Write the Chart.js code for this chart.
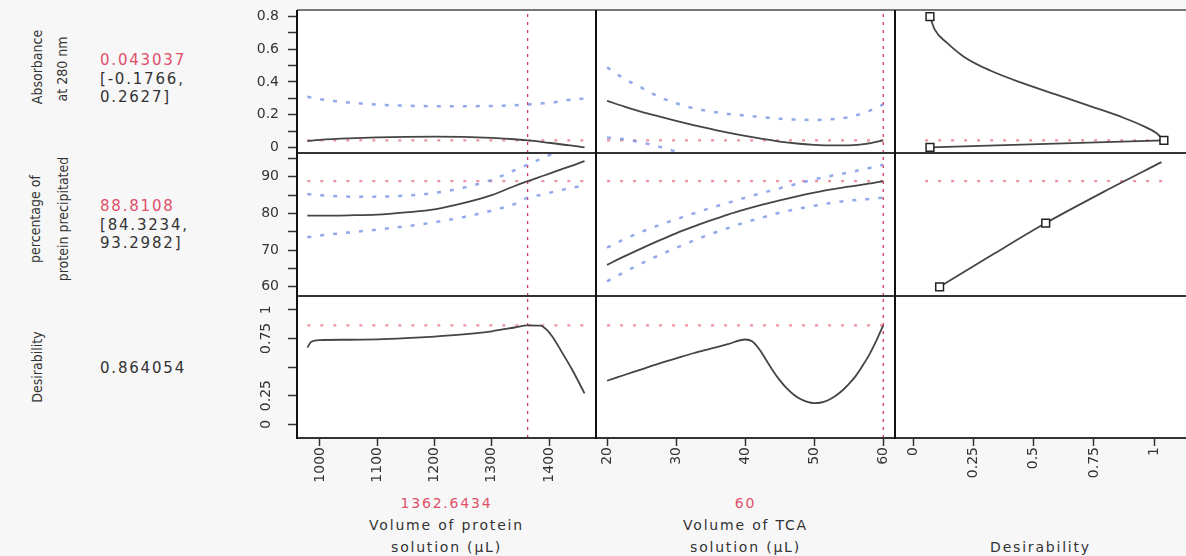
<!DOCTYPE html>
<html>
<head>
<meta charset="utf-8">
<script src="https://cdn.jsdelivr.net/npm/chart.js@4.4.0/dist/chart.umd.min.js"></script>
<style>
  body { margin:0; width:1186px; height:556px; overflow:hidden; position:relative; background:#f7f7f7;
         font-family:"DejaVu Sans", Verdana, sans-serif; color:#333; }
  canvas { position:absolute; }
  .line { position:absolute; }
  .vt { position:absolute; transform:translate(-50%,-50%) rotate(-90deg); white-space:nowrap;
        font:14px "Liberation Sans Narrow", "DejaVu Sans Condensed", sans-serif; color:#333; }
  .val { position:absolute; font-size:15px; letter-spacing:1.8px; line-height:18.5px; white-space:nowrap; }
  .xt { position:absolute; transform:translateX(-50%); text-align:center; font-size:14px; letter-spacing:1.8px;
        line-height:22px; white-space:nowrap; }
  .red { color:#e0506a; }
</style>
</head>
<body>
<script>
// ---- current settings of the profiler ----
const CUR_PROTEIN = 1362.6434;
const CUR_TCA = 60;
const CUR_ABS = 0.043037;
const CUR_ABS_CI = [-0.1766, 0.2627];
const CUR_PCT = 88.8108;
const CUR_PCT_CI = [84.3234, 93.2982];
const CUR_DES = 0.864054;

// ---- axis ranges and ticks ----
const protRange = [960, 1482];
const tcaRange = [18.4, 61.7];
const desXRange = [-0.075, 1.14];
const absRange = [-0.034, 0.84];
const pctRange = [57.5, 96.5];
const desYRange = [-0.12, 1.12];

const protTicks = [1000, 1100, 1200, 1300, 1400];
const protLabels = ['1000', '1100', '1200', '1300', '1400'];
const tcaTicks = [20, 30, 40, 50, 60];
const tcaLabels = ['20', '30', '40', '50', '60'];
const desXTicks = [0, 0.25, 0.5, 0.75, 1];
const desXLabels = ['0', '0.25', '0.5', '0.75', '1'];
const absTicks = [0, 0.1, 0.2, 0.3, 0.4, 0.5, 0.6, 0.7, 0.8];
const absLabels = ['0', '', '0.2', '', '0.4', '', '0.6', '', '0.8'];
const pctTicks = [60, 65, 70, 75, 80, 85, 90, 95];
const pctLabels = ['60', '', '70', '', '80', '', '90', ''];
const desYTicks = [0, 0.25, 0.5, 0.75, 1];
const desYLabels = ['0', '0.25', '', '0.75', '1'];

// ---- profiles over protein volume ----
const protGrid    = [978, 1000, 1050, 1100, 1150, 1200, 1250, 1300, 1340, 1362.6434, 1390, 1410, 1430, 1450, 1462];
const absByProt   = [0.040, 0.046, 0.055, 0.061, 0.065, 0.066, 0.064, 0.058, 0.050, 0.043, 0.033, 0.024, 0.015, 0.006, 0.0];
const absByProtHi = [0.31, 0.295, 0.275, 0.262, 0.255, 0.252, 0.252, 0.254, 0.258, 0.2627, 0.27, 0.276, 0.288, 0.295, 0.30];
const absByProtLo = [-0.23, -0.20, -0.165, -0.14, -0.125, -0.12, -0.124, -0.138, -0.158, -0.1766, -0.204, -0.228, -0.258, -0.283, -0.30];
const pctByProt   = [79.4, 79.4, 79.5, 79.7, 80.3, 81.1, 82.8, 85.0, 87.5, 88.8108, 90.3, 91.4, 92.5, 93.6, 94.3];
const pctByProtHi = [85.3, 85.0, 84.6, 84.6, 84.9, 85.6, 87.0, 89.2, 91.8, 93.2982, 95.2, 96.6, 98.0, 99.4, 100.2];
const pctByProtLo = [73.5, 74.0, 74.8, 75.6, 76.5, 77.6, 79.0, 80.8, 82.6, 84.3234, 85.2, 86.0, 86.7, 87.3, 87.6];
const desProtGrid = [978, 985, 1000, 1050, 1100, 1150, 1200, 1250, 1300, 1340, 1362.6434, 1385, 1395, 1405, 1420, 1440, 1462];
const desByProt   = [0.67, 0.72, 0.735, 0.738, 0.742, 0.752, 0.766, 0.785, 0.812, 0.845, 0.864054, 0.862, 0.83, 0.77, 0.65, 0.48, 0.27];

// ---- profiles over TCA volume ----
const tcaGrid    = [20, 22.5, 25, 27.5, 30, 32.5, 35, 37.5, 40, 42.5, 45, 47.5, 50, 52.5, 55, 57.5, 60];
const absByTca   = [0.285, 0.25, 0.218, 0.19, 0.163, 0.137, 0.113, 0.09, 0.07, 0.052, 0.036, 0.024, 0.016, 0.012, 0.013, 0.022, 0.043];
const absByTcaHi = [0.49, 0.42, 0.365, 0.31, 0.27, 0.24, 0.22, 0.205, 0.195, 0.185, 0.175, 0.17, 0.168, 0.172, 0.185, 0.215, 0.2627];
const absByTcaLo = [0.06, 0.05, 0.03, 0.005, -0.025, -0.055, -0.08, -0.1, -0.115, -0.125, -0.13, -0.135, -0.14, -0.145, -0.155, -0.165, -0.1766];
const pctByTca   = [66.0, 68.3, 70.5, 72.6, 74.6, 76.4, 78.1, 79.7, 81.1, 82.4, 83.6, 84.7, 85.7, 86.6, 87.3, 88.0, 88.8108];
const pctByTcaHi = [70.7, 73.0, 75.0, 76.8, 78.4, 80.0, 81.5, 82.9, 84.3, 85.6, 86.9, 88.1, 89.3, 90.3, 91.2, 92.2, 93.2982];
const pctByTcaLo = [61.5, 64.0, 66.4, 68.6, 70.6, 72.6, 74.4, 76.0, 77.6, 78.9, 80.2, 81.2, 82.1, 82.9, 83.5, 83.9, 84.3234];
const desTcaGrid = [20, 22.5, 25, 27.5, 30, 32.5, 35, 37.5, 40, 41, 42, 43, 44, 45, 46, 47, 48, 49, 50, 51, 52, 53, 54, 55, 56, 57, 58, 59, 60];
const desByTca   = [0.38, 0.43, 0.48, 0.53, 0.575, 0.62, 0.66, 0.70, 0.74, 0.725, 0.66, 0.565, 0.47, 0.385, 0.315, 0.26, 0.22,
                    0.195, 0.185, 0.19, 0.21, 0.245, 0.29, 0.35, 0.42, 0.51, 0.61, 0.73, 0.864054];

// ---- desirability functions (x = desirability) ----
const absDesX  = [0.07, 0.09, 0.14, 0.21, 0.32, 0.46, 0.60, 0.74, 0.875, 0.96, 1.01, 1.04];
const absDesY  = [0.8, 0.72, 0.64, 0.555, 0.47, 0.39, 0.32, 0.25, 0.18, 0.127, 0.087, 0.043];
const absTailX = [1.04, 0.07];
const absTailY = [0.043, 0.0];
const absMarkX = [0.07, 1.04, 0.07];
const absMarkY = [0.8, 0.043, 0.0];
const pctDesX  = [0.11, 0.33, 0.55, 0.79, 1.03];
const pctDesY  = [60, 68.8, 77.4, 85.9, 94.0];
const pctMarkX = [0.11, 0.55];
const pctMarkY = [60, 77.4];
const desHSpan = [0.05, 1.07];

// ---- layout ----
const COLS = [{ left: 297, width: 299 }, { left: 596, width: 299 }, { left: 895, width: 293 }];
const ROWS = [{ top: 10, height: 143 }, { top: 153, height: 143 }, { top: 296, height: 142 }];
const AXIS_W = 50, AXIS_H = 52;

Chart.defaults.font.family = '"DejaVu Sans", Verdana, sans-serif';
Chart.defaults.font.size = 14;
Chart.defaults.color = '#333';
Chart.defaults.animation = false;
Chart.defaults.events = [];
Chart.defaults.plugins.legend.display = false;
Chart.defaults.plugins.tooltip.enabled = false;

const pts = (xs, ys) => xs.map((x, i) => ({ x, y: ys[i] }));

const fit = (xs, ys) => ({ data: pts(xs, ys), borderColor: '#454545', borderWidth: 1.8, pointRadius: 0,
  cubicInterpolationMode: 'monotone' });
const ci = (xs, ys) => ({ data: pts(xs, ys), borderColor: 'rgba(110,140,230,0.75)', borderWidth: 2.5,
  borderDash: [4, 9], pointRadius: 0, cubicInterpolationMode: 'monotone' });
const hline = (y, span) => ({ data: [{ x: span[0], y }, { x: span[1], y }], borderColor: 'rgba(232,120,135,0.8)',
  borderWidth: 2.2, borderDash: [3, 10], pointRadius: 0 });
const vline = (x, range) => ({ data: [{ x, y: range[0] }, { x, y: range[1] }], borderColor: '#d23c55',
  borderWidth: 1.3, borderDash: [3, 5], pointRadius: 0 });
const straight = (xs, ys) => ({ data: pts(xs, ys), borderColor: '#454545', borderWidth: 1.8, pointRadius: 0 });
const marks = (xs, ys) => ({ data: pts(xs, ys), showLine: false, pointStyle: 'rect', pointRadius: 5.5,
  pointBorderColor: '#222', pointBackgroundColor: '#fff', pointBorderWidth: 1.5 });

// white plotting area
const panelBg = {
  id: 'panelBg',
  beforeDraw(chart) {
    const { ctx, chartArea: a } = chart;
    ctx.save();
    ctx.fillStyle = '#fff';
    ctx.fillRect(a.left, a.top, a.width, a.height);
    ctx.restore();
  }
};

// vertical tick labels on a y axis
const rotLabels = {
  id: 'rotLabels',
  afterDraw(chart, args, o) {
    if (!o.labels) return;
    const { ctx, chartArea: a, scales: { y } } = chart;
    ctx.save();
    ctx.font = '14px "DejaVu Sans", Verdana, sans-serif';
    ctx.fillStyle = '#333';
    ctx.textAlign = 'center';
    ctx.textBaseline = 'middle';
    o.values.forEach((v, i) => {
      if (!o.labels[i]) return;
      ctx.save();
      ctx.translate(a.left - 31, y.getPixelForValue(v));
      ctx.rotate(-Math.PI / 2);
      ctx.fillText(o.labels[i], 0, 0);
      ctx.restore();
    });
    ctx.restore();
  }
};

function axis(a, show, dir) {
  return {
    type: 'linear', display: show, min: a.range[0], max: a.range[1],
    afterBuildTicks: s => { s.ticks = a.ticks.map(v => ({ value: v })); },
    afterFit: s => {
      // keep the plot area flush with the canvas edges
      s.paddingTop = s.paddingBottom = s.paddingLeft = s.paddingRight = 0;
      if (!show) return;
      if (dir === 'x') s.height = AXIS_H; else s.width = AXIS_W;
    },
    grid: { drawOnChartArea: false, drawTicks: true, tickLength: dir === 'x' ? 8 : 9, tickColor: '#333', tickWidth: 1.5 },
    border: { display: false },
    ticks: {
      autoSkip: false,
      padding: dir === 'x' ? 1 : 9,
      minRotation: dir === 'x' ? 90 : 0,
      maxRotation: dir === 'x' ? 90 : 0,
      callback: (v, i) => a.rotated ? '' : a.labels[i]
    }
  };
}

function panel(col, row, xa, ya, datasets) {
  const c = COLS[col], r = ROWS[row];
  const showY = col === 0, showX = row === 2;
  const w = c.width + (showY ? AXIS_W : 0);
  const h = r.height + (showX ? AXIS_H : 0);
  const cv = document.createElement('canvas');
  cv.width = w; cv.height = h;
  cv.style.left = (c.left - (showY ? AXIS_W : 0)) + 'px';
  cv.style.top = r.top + 'px';
  cv.style.width = w + 'px'; cv.style.height = h + 'px';
  document.body.appendChild(cv);
  return new Chart(cv, {
    type: 'line',
    data: { datasets },
    options: {
      responsive: false,
      layout: { padding: 0, autoPadding: false },
      scales: { x: axis(xa, showX, 'x'), y: axis(ya, showY, 'y') },
      plugins: { rotLabels: ya.rotated && showY ? { values: ya.ticks, labels: ya.labels } : {} }
    },
    plugins: [panelBg, rotLabels]
  });
}

const xProt = { range: protRange, ticks: protTicks, labels: protLabels };
const xTca = { range: tcaRange, ticks: tcaTicks, labels: tcaLabels };
const xDes = { range: desXRange, ticks: desXTicks, labels: desXLabels };
const yAbs = { range: absRange, ticks: absTicks, labels: absLabels };
const yPct = { range: pctRange, ticks: pctTicks, labels: pctLabels };
const yDes = { range: desYRange, ticks: desYTicks, labels: desYLabels, rotated: true };
const protSpan = [protGrid[0], protGrid[protGrid.length - 1]];
const tcaSpan = [tcaGrid[0], tcaGrid[tcaGrid.length - 1]];

// row 1: absorbance at 280 nm
panel(0, 0, xProt, yAbs, [fit(protGrid, absByProt), ci(protGrid, absByProtHi), ci(protGrid, absByProtLo),
  hline(CUR_ABS, protSpan), vline(CUR_PROTEIN, absRange)]);
panel(1, 0, xTca, yAbs, [fit(tcaGrid, absByTca), ci(tcaGrid, absByTcaHi), ci(tcaGrid, absByTcaLo),
  hline(CUR_ABS, tcaSpan), vline(CUR_TCA, absRange)]);
panel(2, 0, xDes, yAbs, [marks(absMarkX, absMarkY), fit(absDesX, absDesY), straight(absTailX, absTailY),
  hline(CUR_ABS, desHSpan)]);

// row 2: percentage of protein precipitated
panel(0, 1, xProt, yPct, [fit(protGrid, pctByProt), ci(protGrid, pctByProtHi), ci(protGrid, pctByProtLo),
  hline(CUR_PCT, protSpan), vline(CUR_PROTEIN, pctRange)]);
panel(1, 1, xTca, yPct, [fit(tcaGrid, pctByTca), ci(tcaGrid, pctByTcaHi), ci(tcaGrid, pctByTcaLo),
  hline(CUR_PCT, tcaSpan), vline(CUR_TCA, pctRange)]);
panel(2, 1, xDes, yPct, [marks(pctMarkX, pctMarkY), fit(pctDesX, pctDesY), hline(CUR_PCT, desHSpan)]);

// row 3: overall desirability
panel(0, 2, xProt, yDes, [fit(desProtGrid, desByProt), hline(CUR_DES, protSpan), vline(CUR_PROTEIN, desYRange)]);
panel(1, 2, xTca, yDes, [fit(desTcaGrid, desByTca), hline(CUR_DES, tcaSpan), vline(CUR_TCA, desYRange)]);
panel(2, 2, xDes, yDes, []);

// panel frame
const frameTop = ROWS[0].top, frameBottom = ROWS[2].top + ROWS[2].height;
const frameLeft = COLS[0].left;
function rule(left, top, width, height, color) {
  const d = document.createElement('div');
  d.className = 'line';
  Object.assign(d.style, { left: left + 'px', top: top + 'px', width: width + 'px', height: height + 'px', background: color });
  document.body.appendChild(d);
}
rule(frameLeft, frameTop - 1, 1186 - frameLeft, 2, '#777');
[ROWS[1].top, ROWS[2].top, frameBottom].forEach(y => rule(frameLeft, y - 1, 1186 - frameLeft, 2, '#333'));
COLS.forEach(c => rule(c.left - 1, frameTop, 2, frameBottom - frameTop + 1, '#111'));

// response names, current predictions and factor titles
function text(cls, left, top, html) {
  const d = document.createElement('div');
  d.className = cls;
  d.style.left = left + 'px';
  d.style.top = top + 'px';
  d.innerHTML = html;
  document.body.appendChild(d);
}
text('vt', 37, 67, 'Absorbance');
text('vt', 62, 69, 'at 280 nm');
text('vt', 35, 219, 'percentage of');
text('vt', 63, 219, 'protein precipitated');
text('vt', 37, 367, 'Desirability');

text('val', 100, 51, `<span class="red">${CUR_ABS}</span><br>[${CUR_ABS_CI[0]},<br>${CUR_ABS_CI[1]}]`);
text('val', 100, 197, `<span class="red">${CUR_PCT}</span><br>[${CUR_PCT_CI[0]},<br>${CUR_PCT_CI[1]}]`);
text('val', 100, 359, `${CUR_DES}`);

text('xt', COLS[0].left + COLS[0].width / 2, 492, `<span class="red">${CUR_PROTEIN}</span><br>Volume of protein<br>solution (µL)`);
text('xt', COLS[1].left + COLS[1].width / 2, 492, `<span class="red">${CUR_TCA}</span><br>Volume of TCA<br>solution (µL)`);
text('xt', (COLS[2].left + 1186) / 2, 536, 'Desirability');
</script>
</body>
</html>
